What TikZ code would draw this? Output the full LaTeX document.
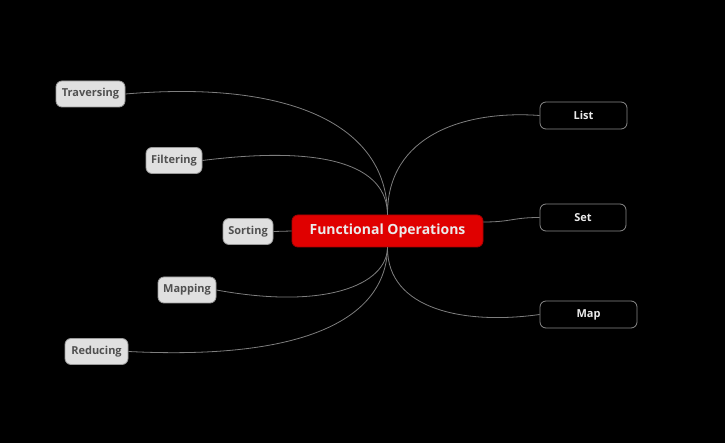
\documentclass[tikz,border=0pt]{standalone}
\usepackage{fontspec}
\setmainfont{Open Sans}
\definecolor{bg}{HTML}{000000}
\definecolor{redfill}{HTML}{E00000}
\definecolor{redborder}{HTML}{A80000}
\definecolor{lightfill}{HTML}{E0E0E0}
\definecolor{lightborder}{HTML}{9A9A9A}
\definecolor{lighttext}{HTML}{505050}
\definecolor{darkborder}{HTML}{8A8A8A}
\definecolor{linkcol}{HTML}{7E7E7E}
\begin{document}
\begin{tikzpicture}[x=1pt,y=-1pt,
  centralbox/.style={draw=redborder,fill=redfill,rounded corners=6pt,line width=0.8pt,
    minimum width=191pt,minimum height=32pt,inner sep=0pt,text=white!92!black,
    font=\fontsize{14}{16}\selectfont\bfseries},
  leftbox/.style={draw=lightborder,fill=lightfill,rounded corners=6pt,line width=0.8pt,
    minimum height=26pt,inner sep=0pt,text=lighttext,font=\fontsize{11}{13}\selectfont\bfseries},
  rightbox/.style={draw=darkborder,fill=black,rounded corners=6pt,line width=0.8pt,
    minimum height=27pt,inner sep=0pt,text=white!92!black,font=\fontsize{11}{13}\selectfont\bfseries},
  link/.style={draw=linkcol,line width=0.8pt}]
\fill[bg] (0,0) rectangle (725,443);
\useasboundingbox (0,0) rectangle (725,443);

\node[centralbox] (c) at (387.5,231) {Functional Operations};

\node[leftbox,minimum width=69pt] (trav) at (90.5,94) {Traversing};
\node[leftbox,minimum width=56pt] (filt) at (174,160.5) {Filtering};
\node[leftbox,minimum width=50pt] (sort) at (248,231.5) {Sorting};
\node[leftbox,minimum width=58pt] (mapp) at (187,290) {Mapping};
\node[leftbox,minimum width=63pt] (redu) at (96.5,351.5) {Reducing};

\node[rightbox,minimum width=87pt] (list) at (583.5,115.5) {List};
\node[rightbox,minimum width=86pt] (set) at (583,217.5) {Set};
\node[rightbox,minimum width=97pt] (map) at (588.5,314.5) {Map};

\draw[link] (trav.east) .. controls (290,80) and (387,125) .. (c.north);
\draw[link] (filt.east) .. controls (325,145) and (387,165) .. (c.north);
\draw[link] (sort.east) -- (c.west);
\draw[link] (mapp.east) .. controls (325,310) and (387,285) .. (c.south);
\draw[link] (redu.east) .. controls (340,362) and (387,300) .. (c.south);

\draw[link] (c.north) .. controls (387,135) and (465,110) .. (list.west);
\draw[link] ([yshift=9pt]c.east) .. controls (512,222) and (512,217.5) .. (set.west);
\draw[link] (c.south) .. controls (387,310) and (465,325) .. (map.west);
\end{tikzpicture}
\end{document}
